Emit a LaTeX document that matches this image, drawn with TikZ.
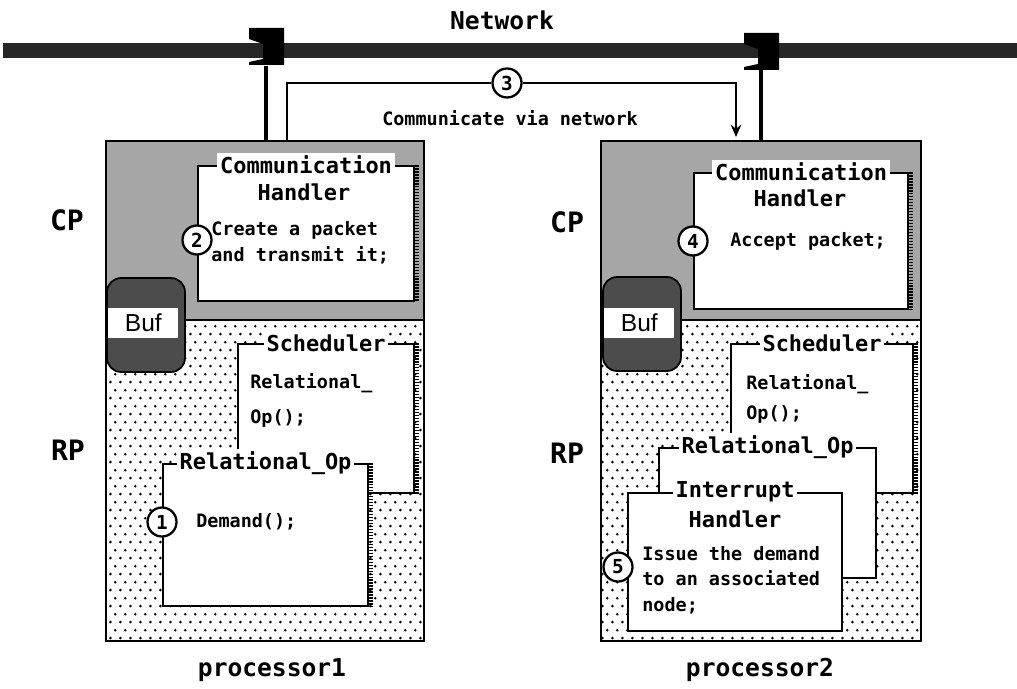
\documentclass[tikz,border=0pt]{standalone}
\usepackage{fontspec}
\setmainfont{DejaVu Sans Mono}
\newfontfamily\buffont{Liberation Sans}
\usetikzlibrary{arrows.meta,positioning,calc,patterns.meta}

\pgfdeclarepattern{
  name=rpdots,
  type=uncolored,
  bottom left={\pgfpoint{0pt}{0pt}},
  top right={\pgfpoint{5.6pt}{9pt}},
  tile size={\pgfpoint{5.6pt}{9pt}},
  code={
    \pgfpathcircle{\pgfpoint{1.4pt}{2.25pt}}{0.85pt}
    \pgfpathcircle{\pgfpoint{4.2pt}{6.75pt}}{0.85pt}
    \pgfusepath{fill}
  }
}

\begin{document}
\begin{tikzpicture}[
    x=0.02cm, y=-0.02cm,
    proc/.style={draw,line width=1.3pt,anchor=north west,inner sep=0pt,minimum width=6.36cm,minimum height=10cm},
    unit/.style={draw,line width=1.2pt,fill=white,anchor=north west,inner sep=0pt},
    rimshadow/.style={line width=2.6pt,dash pattern=on 0.9pt off 0.8pt},
    boxtitle/.style={fill=white,inner sep=1.5pt,font=\fontsize{12.5}{14}\selectfont\bfseries},
    bodytext/.style={anchor=west,inner sep=0pt,align=left,font=\fontsize{10.5}{14.5}\selectfont\bfseries},
    numdot/.style={circle,draw,line width=1.3pt,fill=white,minimum size=0.58cm,inner sep=0pt,font=\fontsize{11}{12}\selectfont\bfseries},
    biglabel/.style={font=\fontsize{14}{16}\selectfont\bfseries},
    cplabel/.style={font=\fontsize{16}{18}\selectfont\bfseries},
    bufbox/.style={draw,line width=1pt,fill=black!70,rounded corners=8pt,minimum width=1.56cm,minimum height=1.88cm},
    buflabel/.style={fill=white,anchor=west,minimum width=1.4cm,minimum height=0.62cm,inner sep=1pt,align=left,font=\buffont\fontsize{14}{16}\selectfont},
    link/.style={line width=2.4pt},
    msg/.style={line width=1.2pt},
    jack/.pic={\fill (0,0) -- (35,0) -- (35,37) -- (0,37) -- (0,34) -- (14,31) -- (14,16) -- (0,11) -- cycle;},
    >={Stealth[length=7pt,width=6pt]}
]
\useasboundingbox (0,0) rectangle (1017,689);

% network
\node[biglabel] (net) at (502,20) {Network};
\fill[black!85] (3,43) rectangle (1017,58);
\pic at (249,28) {jack};
\pic at (744,33) {jack};

% processor 1
\fill[black!35] (105,140) rectangle (423,320);
\fill[pattern=rpdots,pattern color=black] (105,320) rectangle (423,640);
\node[proc] (p1) at (105,140) {};
\draw[line width=1.3pt] (105,320) -- (423,320);
\node[bufbox] (buf1) at (146,325) {};
\node[buflabel] (buftag1) at (108,323) {Buf};

\node[unit,minimum width=4.32cm,minimum height=2.7cm] (ch1) at (197,165) {};
\draw[rimshadow] ([xshift=1pt]ch1.north east) -- ([xshift=1pt]ch1.south east);
\node[boxtitle] (ch1t) at (ch1.north) {Communication};
\node[boxtitle,fill=none] (ch1h) at (304,192) {Handler};
\node[bodytext] (ch1b) at (211,243) {Create a packet\\and transmit it;};
\node[numdot] (n2) at (ch1.west |- 0,240) {2};

\node[unit,minimum width=3.52cm,minimum height=2.98cm] (sch1) at (237,343) {};
\draw[rimshadow] ([xshift=1pt]sch1.north east) -- ([xshift=1pt]sch1.south east);
\node[boxtitle] (sch1t) at (sch1.north) {Scheduler};
\node[bodytext,font=\fontsize{10.5}{20}\selectfont\bfseries] (sch1b) at (250,400) {Relational\_\\Op();};

\node[unit,minimum width=4.1cm,minimum height=2.84cm] (rel1) at (162,463) {};
\draw[rimshadow] ([xshift=1pt]rel1.north east) -- ([xshift=1pt]rel1.south east);
\node[boxtitle] (rel1t) at (rel1.north) {Relational\_Op};
\node[numdot] (n1) at (rel1.west |- 0,522) {1};
\node[bodytext] (rel1b) at (196,522) {Demand();};

% processor 2
\fill[black!35] (600,140) rectangle (920,320);
\fill[pattern=rpdots,pattern color=black] (600,320) rectangle (920,640);
\node[proc,minimum width=6.4cm] (p2) at (600,140) {};
\draw[line width=1.3pt] (600,320) -- (920,320);
\node[bufbox] (buf2) at (642,324) {};
\node[buflabel] (buftag2) at (604,323) {Buf};

\node[unit,minimum width=4.28cm,minimum height=2.72cm] (ch2) at (693,172) {};
\draw[rimshadow] ([xshift=1pt]ch2.north east) -- ([xshift=1pt]ch2.south east);
\node[boxtitle] (ch2t) at (ch2.north) {Communication};
\node[boxtitle,fill=none] (ch2h) at (800,198) {Handler};
\node[bodytext] (ch2b) at (730,241) {Accept packet;};
\node[numdot] (n4) at (ch2.west |- 0,241) {4};

\node[unit,minimum width=3.64cm,minimum height=2.98cm] (sch2) at (730,343) {};
\draw[rimshadow] ([xshift=1pt]sch2.north east) -- ([xshift=1pt]sch2.south east);
\node[boxtitle] (sch2t) at (sch2.north) {Scheduler};
\node[bodytext,font=\fontsize{10.5}{17}\selectfont\bfseries] (sch2b) at (746,399) {Relational\_\\Op();};

\node[unit,minimum width=4.34cm,minimum height=2.6cm] (rel2) at (658,447) {};
\node[boxtitle] (rel2t) at (rel2.north) {Relational\_Op};

\node[unit,minimum width=4.28cm,minimum height=2.76cm] (ih2) at (627,492) {};
\node[boxtitle] (ih2t) at (ih2.north) {Interrupt};
\node[boxtitle,fill=none] (ih2h) at (735,519) {Handler};
\node[bodytext] (ih2b) at (642,580) {Issue the demand\\to an associated\\node;};
\node[numdot] (n5) at (618,567) {5};

% side labels
\node[cplabel] (cp1) at (67,220) {CP};
\node[cplabel] (rp1) at (68,450) {RP};
\node[cplabel] (cp2) at (567,222) {CP};
\node[cplabel] (rp2) at (567,453) {RP};
\node[biglabel] (name1) at (272,670) {processor1};
\node[biglabel] (name2) at (760,670) {processor2};

% links to the network
\coordinate (j1) at (266,66);
\coordinate (j2) at (761,70);
\draw[link] (j1) -- (j1 |- p1.north);
\draw[link] (j2) -- (j2 |- p2.north);

% message
\coordinate (m1) at (287,140);
\coordinate (m2) at (736,137);
\node[numdot] (n3) at (507,83) {3};
\draw[msg] (m1) |- (n3);
\draw[msg,->] (n3) -| (m2);
\node[bodytext,anchor=center] (msgtext) at (510,118) {Communicate via network};
\end{tikzpicture}
\end{document}
